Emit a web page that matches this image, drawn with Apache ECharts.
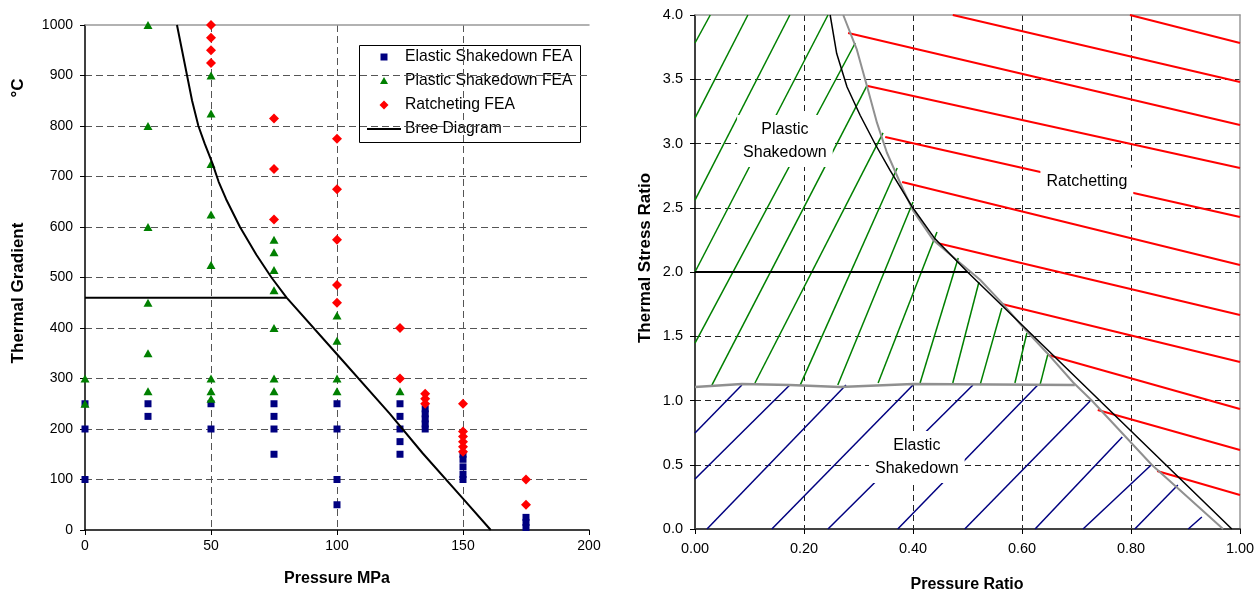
<!DOCTYPE html>
<html><head><meta charset="utf-8">
<script src="https://cdn.jsdelivr.net/npm/echarts@6/dist/echarts.min.js"></script>
<style>html,body{margin:0;padding:0;background:#fff}#c{width:1259px;height:597px}</style>
</head><body><div id="c"></div>
<script>
// ---------- Left chart data: [pressure MPa, thermal gradient °C] ----------
const elasticShakedownFEA = [
  [0,250],[0,200],[0,100],
  [25,250],[25,225],
  [50,250],[50,200],
  [75,250],[75,225],[75,200],[75,150],
  [100,250],[100,200],[100,100],[100,50],
  [125,250],[125,225],[125,200],[125,175],[125,150],
  [135,240],[135,230],[135,220],[135,210],[135,200],
  [150,150],[150,140],[150,125],[150,110],[150,100],
  [175,25],[175,15],[175,5]
];
const plasticShakedownFEA = [
  [0,300],[0,250],
  [25,1000],[25,800],[25,600],[25,450],[25,350],[25,275],
  [50,900],[50,825],[50,725],[50,625],[50,525],[50,300],[50,275],[50,260],
  [75,575],[75,550],[75,515],[75,475],[75,400],[75,300],[75,275],
  [100,425],[100,375],[100,300],[100,275],
  [125,275]
];
const ratchetingFEA = [
  [50,1000],[50,975],[50,950],[50,925],
  [75,815],[75,715],[75,615],
  [100,775],[100,675],[100,575],[100,485],[100,450],
  [125,400],[125,300],
  [135,270],[135,260],[135,250],
  [150,250],[150,195],[150,185],[150,175],[150,165],[150,155],
  [175,100],[175,50]
];
const breeCurve = [[36.5,1000],[38.5,950],[40.5,900],[42.5,850],[45,800],[47.5,765],[50.5,727],[53,690],[56,655],[61.5,600],[68,545],[74,500],[80,460],[100,348],[121,230],[134,152],[150,62],[161,0]];
const breeHorizontal = [[0,460],[80,460]];
const legendNames = ['Elastic Shakedown FEA','Plastic Shakedown FEA','Ratcheting FEA','Bree Diagram'];

// ---------- Right chart data: [pressure ratio, thermal stress ratio] ----------
const bree2Curve = [[0.248,4.0],[0.26,3.70],[0.279,3.44],[0.303,3.22],[0.330,3.0],[0.358,2.79],[0.398,2.51],[0.440,2.26],[0.5,2.0],[0.985,0]];
const bree2Horizontal = [[0,2.0],[0.5,2.0]];
const feaBoundary = [[0.272,4.0],[0.297,3.73],[0.316,3.44],[0.334,3.16],[0.352,2.93],[0.382,2.64],[0.400,2.48],[0.437,2.25],[0.481,2.09],[0.523,1.94],[0.563,1.76],[0.602,1.57],[0.646,1.37],[0.694,1.14],[0.728,1.0],[0.838,0.5],[0.969,0]];
const feaElasticLimit = [[0,1.105],[0.086,1.128],[0.174,1.12],[0.266,1.105],[0.4,1.128],[0.697,1.12]];
// hatch segments [x0,y0,x1,y1]
const plasticHatch = [
  [0.028,4.0,0,3.782],[0.097,4.0,0,3.198],[0.174,4.0,0,2.560],[0.244,4.0,0,2.0],
  [0.294,3.782,0,1.447],[0.316,3.455,0.031,1.12],[0.345,3.082,0.110,1.136],[0.371,2.809,0.193,1.12],
  [0.400,2.545,0.262,1.12],[0.444,2.311,0.336,1.136],[0.483,2.109,0.413,1.136],[0.521,1.922,0.473,1.136],
  [0.563,1.720,0.523,1.12],[0.609,1.525,0.587,1.136],[0.648,1.370,0.633,1.12]
];
const elasticHatch = [
  [0,0.747,0.086,1.12],[0,0.389,0.174,1.12],[0.022,0,0.277,1.12],[0.141,0,0.400,1.12],
  [0.244,0,0.510,1.12],[0.372,0,0.629,1.12],[0.495,0,0.725,0.996],[0.624,0,0.784,0.716],
  [0.712,0,0.837,0.498],[0.807,0,0.886,0.342],[0.905,0,0.930,0.093]
];
const ratchetHatch = [
  [0.798,4.0,1.0,3.782],[0.473,4.0,1.0,3.479],[0.281,3.860,1.0,3.144],[0.317,3.447,1.0,2.809],
  [0.349,3.051,1.0,2.428],[0.380,2.700,1.0,2.054],[0.444,2.226,1.0,1.665],[0.563,1.751,1.0,1.300],
  [0.648,1.354,1.0,0.934],[0.739,0.926,1.0,0.615],[0.848,0.451,1.0,0.265]
];
const regionLabels = [
  {name:'Plastic\nShakedown', value:[0.165,3.02]},
  {name:'Elastic\nShakedown', value:[0.407,0.56]},
  {name:'Ratchetting', value:[0.719,2.70]}
];

const FONT = 'Liberation Sans, Arial, sans-serif';
const toSeg = arr => arr.map(s => ({coords:[[s[0],s[1]],[s[2],s[3]]]}));

const chart = echarts.init(document.getElementById('c'), null, {renderer:'canvas'});
const dashedLeft = {show:true, showMinLine:false, showMaxLine:false, lineStyle:{color:'#555', type:[7,4], width:1}};
const dashedRight = {show:true, showMinLine:false, showMaxLine:false, lineStyle:{color:'#222', type:[6,4], width:1}};
const lbl = {color:'#000', fontFamily:FONT, fontSize:14};

// legend drawn as a boxed key (legend symbols, not data marks)
const LX = 359, LY = 45, rowY = [57, 81, 105, 129], symX = 384, txtX = 405;
const legendGraphic = {
  type:'group', z:50, children:[
    {type:'rect', shape:{x:LX+0.5, y:LY+0.5, width:221, height:97}, style:{fill:'#fff', stroke:'#000', lineWidth:1}},
    {type:'rect', shape:{x:symX-3.5, y:rowY[0]-3.5, width:7, height:7}, style:{fill:'#000080'}},
    {type:'polygon', shape:{points:[[symX,rowY[1]-4],[symX+4,rowY[1]+3],[symX-4,rowY[1]+3]]}, style:{fill:'#008000'}},
    {type:'polygon', shape:{points:[[symX,rowY[2]-4.5],[symX+4.5,rowY[2]],[symX,rowY[2]+4.5],[symX-4.5,rowY[2]]]}, style:{fill:'#ff0000'}},
    {type:'line', shape:{x1:symX-17, y1:rowY[3], x2:symX+17, y2:rowY[3]}, style:{stroke:'#000', lineWidth:2}}
  ].concat(legendNames.map((t,i)=>({type:'text', x:txtX, y:rowY[i],
      style:{text:t, align:'left', verticalAlign:'middle', font:'15.7px '+FONT, fill:'#000'}})))
};

chart.setOption({
  animation:false,
  backgroundColor:'#fff',
  grid:[
    {left:85, top:25, width:504, height:505},
    {left:695, top:15, width:545, height:514}
  ],
  xAxis:[
    {gridIndex:0, type:'value', min:0, max:200, interval:50,
     axisLine:{show:true, onZero:false, lineStyle:{color:'#000', width:1.5}},
     axisTick:{show:true, length:5, lineStyle:{color:'#000'}},
     axisLabel:Object.assign({margin:9}, lbl), splitLine:dashedLeft},
    {gridIndex:0, type:'value', min:0, max:200, position:'top',
     axisLine:{show:true, onZero:false, lineStyle:{color:'#999', width:1.5}},
     axisTick:{show:false}, axisLabel:{show:false}, splitLine:{show:false}},
    {gridIndex:1, type:'value', min:0, max:1, interval:0.2,
     axisLine:{show:true, onZero:false, lineStyle:{color:'#444', width:2}},
     axisTick:{show:true, length:5, lineStyle:{color:'#000'}},
     axisLabel:Object.assign({margin:12, formatter:v=>v.toFixed(2)}, lbl, {fontSize:14.5}), splitLine:dashedRight},
    {gridIndex:1, type:'value', min:0, max:1, position:'top',
     axisLine:{show:true, onZero:false, lineStyle:{color:'#999', width:1.5}},
     axisTick:{show:false}, axisLabel:{show:false}, splitLine:{show:false}}
  ],
  yAxis:[
    {gridIndex:0, type:'value', min:0, max:1000, interval:100,
     axisLine:{show:true, onZero:false, lineStyle:{color:'#000', width:1.5}},
     axisTick:{show:true, length:5, lineStyle:{color:'#000'}},
     axisLabel:Object.assign({margin:12, formatter:v=>String(v)}, lbl), splitLine:dashedLeft},
    {gridIndex:1, type:'value', min:0, max:4, interval:0.5,
     axisLine:{show:true, onZero:false, lineStyle:{color:'#000', width:1.5}},
     axisTick:{show:true, length:5, lineStyle:{color:'#000'}},
     axisLabel:Object.assign({margin:12, formatter:v=>v.toFixed(1)}, lbl, {fontSize:14.5}), splitLine:dashedRight},
    {gridIndex:1, type:'value', min:0, max:4, position:'right',
     axisLine:{show:true, onZero:false, lineStyle:{color:'#999', width:1.5}},
     axisTick:{show:false}, axisLabel:{show:false}, splitLine:{show:false}}
  ],
  graphic:[
    legendGraphic,
    {type:'text', x:18, y:293, rotation:Math.PI/2,
     style:{text:'Thermal Gradient', align:'center', verticalAlign:'middle', font:'bold 17px '+FONT, fill:'#000'}},
    {type:'text', x:18, y:88, rotation:Math.PI/2,
     style:{text:'\u00b0C', align:'center', verticalAlign:'middle', font:'bold 17px '+FONT, fill:'#000'}},
    {type:'text', x:337, y:579,
     style:{text:'Pressure MPa', align:'center', verticalAlign:'middle', font:'bold 16px '+FONT, fill:'#000'}},
    {type:'text', x:645, y:258, rotation:Math.PI/2,
     style:{text:'Thermal Stress Ratio', align:'center', verticalAlign:'middle', font:'bold 17px '+FONT, fill:'#000'}},
    {type:'text', x:967, y:585,
     style:{text:'Pressure Ratio', align:'center', verticalAlign:'middle', font:'bold 16px '+FONT, fill:'#000'}}
  ],
  series:[
    {name:legendNames[0], type:'scatter', xAxisIndex:0, yAxisIndex:0, symbol:'rect', symbolSize:7,
     itemStyle:{color:'#000080', opacity:1}, data:elasticShakedownFEA, z:3},
    {name:legendNames[1], type:'scatter', xAxisIndex:0, yAxisIndex:0, symbol:'triangle', symbolSize:[9,8],
     itemStyle:{color:'#008000', opacity:1}, data:plasticShakedownFEA, z:3},
    {name:legendNames[2], type:'scatter', xAxisIndex:0, yAxisIndex:0, symbol:'diamond', symbolSize:10,
     itemStyle:{color:'#ff0000', opacity:1}, data:ratchetingFEA, z:3},
    {name:legendNames[3], type:'line', xAxisIndex:0, yAxisIndex:0, symbol:'none', showSymbol:false,
     lineStyle:{color:'#000', width:2}, itemStyle:{color:'#000'}, data:breeCurve, z:4},
    {name:'breeH', type:'line', xAxisIndex:0, yAxisIndex:0, symbol:'none', showSymbol:false,
     lineStyle:{color:'#000', width:2}, data:breeHorizontal, z:4},

    {name:'plasticHatch', type:'lines', coordinateSystem:'cartesian2d', xAxisIndex:2, yAxisIndex:1,
     lineStyle:{color:'#008000', width:1.5, opacity:1}, data:toSeg(plasticHatch), z:2},
    {name:'elasticHatch', type:'lines', coordinateSystem:'cartesian2d', xAxisIndex:2, yAxisIndex:1,
     lineStyle:{color:'#000080', width:1.5, opacity:1}, data:toSeg(elasticHatch), z:2},
    {name:'ratchetHatch', type:'lines', coordinateSystem:'cartesian2d', xAxisIndex:2, yAxisIndex:1,
     lineStyle:{color:'#ff0000', width:2, opacity:1}, data:toSeg(ratchetHatch), z:2},
    {name:'feaLimit', type:'line', xAxisIndex:2, yAxisIndex:1, symbol:'none', showSymbol:false,
     lineStyle:{color:'#909090', width:2.5}, data:feaElasticLimit, z:4},
    {name:'feaBoundary', type:'line', xAxisIndex:2, yAxisIndex:1, symbol:'none', showSymbol:false,
     lineStyle:{color:'#909090', width:2}, data:feaBoundary, z:4},
    {name:'bree2', type:'line', xAxisIndex:2, yAxisIndex:1, symbol:'none', showSymbol:false,
     lineStyle:{color:'#000', width:1.5}, data:bree2Curve, z:5},
    {name:'bree2H', type:'line', xAxisIndex:2, yAxisIndex:1, symbol:'none', showSymbol:false,
     lineStyle:{color:'#000', width:2}, data:bree2Horizontal, z:5},
    {name:'regions', type:'scatter', xAxisIndex:2, yAxisIndex:1, symbolSize:0, silent:true,
     itemStyle:{opacity:1}, data:regionLabels, z:6,
     label:{show:true, position:'inside', formatter:'{b}', color:'#000', opacity:1, fontFamily:FONT, fontSize:16,
            lineHeight:23, align:'center', textBorderWidth:0, backgroundColor:'#fff', padding:[3,6]}}
  ]
});
</script>
</body></html>
